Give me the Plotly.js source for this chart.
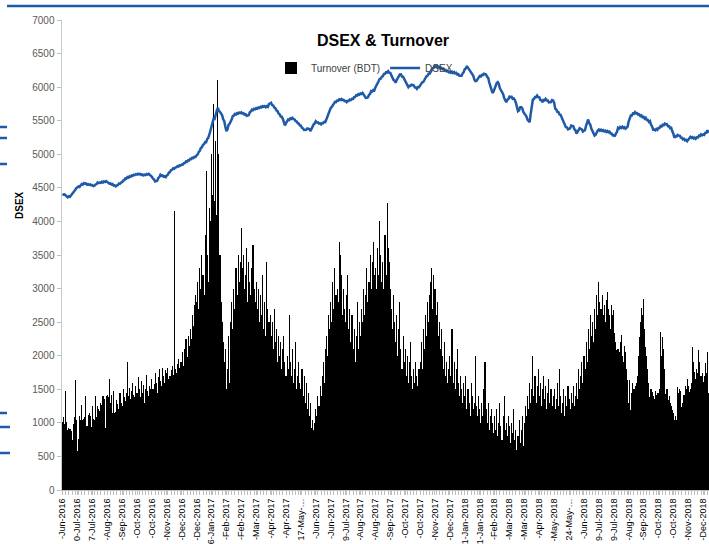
<!DOCTYPE html>
<html>
<head>
<meta charset="utf-8">
<script src="https://cdn.plot.ly/plotly-3.0.1.min.js"></script>
<style>
  html, body { margin: 0; padding: 0; background: #fff; }
  #chart { width: 709px; height: 544px; overflow: hidden; }
</style>
</head>
<body>
<div id="chart"></div>
<script>
// Tick labels as visible in the reference (one every 14 trading days)
const tickLabels = [
  "-Jun-2016","0-Jul-2016","7-Jul-2016","-Aug-2016","-Sep-2016","-Oct-2016","-Oct-2016",
  "-Nov-2016","-Dec-2016","-Dec-2016","6-Jan-2017","-Feb-2017","-Feb-2017","-Mar-2017",
  "-Apr-2017","-Apr-2017","17-May-\u2026","-Jun-2017","-Jun-2017","9-Jul-2017","-Aug-2017",
  "-Aug-2017","-Sep-2017","-Oct-2017","-Oct-2017","-Nov-2017","-Dec-2017","1-Jan-2018",
  "1-Jan-2018","-Feb-2018","-Mar-2018","-Mar-2018","-Apr-2018","-May-2018","24-May-\u2026",
  "-Jun-2018","9-Jul-2018","9-Jul-2018","-Aug-2018","-Sep-2018","-Oct-2018","-Oct-2018",
  "-Nov-2018","-Dec-2018"
];

// Daily turnover (BDT, million)
const turnover = [
  1020,1080,980,1480,1010,900,920,910,880,740,980,1080,1640,1050,
  580,760,1100,1050,1260,1040,1060,1080,1400,950,1120,1150,1100,940,
  1250,1060,1050,1400,1080,1250,1200,1180,1300,1260,1400,1350,930,1400,
  1420,1380,1650,1300,1420,1150,1480,1150,1160,1340,1280,1200,1450,1300,
  1250,1500,1380,1320,1450,1900,1400,1520,1350,1480,1600,1420,1380,1550,
  1450,1680,1500,1380,1620,1450,1560,1300,1500,1720,1480,1400,1550,1500,
  1650,1500,1580,1750,1600,1450,1680,1800,1620,1550,1820,1700,1600,1780,
  1750,1820,1650,1700,1780,1850,1720,4150,1800,1750,1880,1950,1820,1900,
  1900,2050,1850,2100,2250,1980,2300,2150,2400,2250,2600,2450,2750,2900,
  2800,3100,2700,3300,3000,3500,3200,2900,3800,4750,3500,3100,4200,4000,
  5000,4400,5750,4300,5200,4100,6100,5000,3500,2800,2500,2200,1900,2100,
  1500,1800,2300,1600,2500,2800,2400,3000,2700,3300,2900,3500,3100,3400,
  3900,3300,3500,3000,3200,3600,2800,3400,3100,2900,3300,3650,3000,2800,
  3100,2700,3000,2500,2900,2600,3200,2400,2800,2300,3400,2700,2500,2600,
  2300,2500,2100,2700,2200,2400,1900,2300,2000,2200,1800,2100,2300,1900,
  1700,2000,1800,2600,1900,1700,2100,1600,1800,2200,1500,1700,1900,1600,
  1500,1800,1400,1700,1300,1600,1200,1450,1100,1300,920,1050,900,1000,
  1200,1100,1400,1250,1550,1400,1700,1900,1600,2100,2300,2000,2600,2400,
  2800,2500,3100,2700,3300,2900,3000,2800,3700,3500,3200,2600,3000,2700,
  2500,2900,3200,2400,2700,2200,2600,2100,2400,1900,2300,2800,2100,2500,
  2300,2700,2500,3000,2600,2900,3300,2800,3100,3500,3000,3400,3700,3200,
  3300,3000,3600,3200,4000,3500,3100,3400,3000,3800,3200,4270,3600,3400,
  3000,2700,2400,2900,2500,2200,2600,2000,2400,2800,2100,1800,2300,1900,
  2100,1700,2000,1600,1900,2200,1700,1500,1800,1600,1900,1700,1550,1800,
  1900,2200,1800,2400,2100,2600,2300,2800,2500,2900,3100,3300,2700,3200,
  3000,2600,2800,2300,2500,2100,2400,2000,1800,2200,1700,1900,1600,1800,
  2000,1700,2400,1600,1900,1500,1800,2100,1600,1400,1700,1500,1300,1600,
  1400,1700,1200,1500,1300,1100,1600,1400,1200,1300,2000,1250,1100,1400,
  1200,1000,1300,1100,1500,1900,1200,1000,1300,900,1100,1200,1000,850,
  1100,900,1200,800,1000,1300,950,750,1100,1400,900,1000,800,1100,
  950,700,1000,850,1200,750,900,600,800,1050,700,900,1100,650,
  1000,1250,1100,1400,1200,1600,1300,1500,2000,1400,1700,1300,1550,1800,
  1400,1600,1250,1500,1700,1350,1550,1200,1450,1650,1300,1500,1250,1400,
  1500,1200,1350,1600,1250,1800,1400,1150,1300,1500,1100,1400,1250,1550,
  1350,1200,1450,1300,1550,1250,1400,1600,1350,1800,1500,1700,1900,1600,
  2000,1800,2200,1900,2400,2100,2600,2300,2500,2200,2700,2400,2900,2600,
  3100,2800,2700,2900,2600,2750,2500,2830,2950,2700,2600,2400,2750,2600,
  2680,2338,2200,2085,2100,2050,2200,2308,2000,1900,2150,2050,1800,1640,
  1300,1640,1190,1450,1594,1500,1550,1600,1700,2000,2279,2500,2710,2600,
  2850,2400,2130,2000,1800,1600,1385,1500,1460,1400,1350,1480,1420,1450,
  1450,1500,2353,2000,2279,2100,1800,1430,1500,1340,1400,1300,1250,1190,
  1150,1043,1100,1050,1534,1450,1500,1480,1236,1300,1420,1550,1500,1660,
  1550,1460,1500,1600,2130,1900,1760,1650,1809,1750,2085,1900,1700,1750,
  1610,1700,1890,1750,2050,1450
];

// Daily DSEX index close
const dsex = [
  4410,4398,4402,4380,4372,4360,4375,4368,4392,4415,4430,4468,4472,4495,
  4510,4522,4515,4543,4556,4548,4570,4562,4566,4548,4556,4545,4552,4538,
  4542,4526,4532,4550,4556,4581,4572,4580,4576,4592,4580,4596,4588,4600,
  4585,4580,4562,4566,4550,4556,4535,4538,4522,4534,4542,4563,4562,4580,
  4585,4610,4615,4640,4638,4660,4652,4672,4666,4685,4680,4696,4690,4704,
  4698,4710,4702,4708,4692,4700,4686,4696,4690,4705,4698,4708,4696,4688,
  4665,4636,4625,4595,4598,4605,4646,4660,4695,4680,4684,4665,4672,4660,
  4685,4695,4728,4735,4766,4770,4792,4785,4805,4806,4822,4818,4838,4832,
  4848,4845,4868,4870,4892,4888,4910,4908,4932,4928,4948,4944,4962,4960,
  4985,4996,5036,5052,5095,5104,5142,5152,5182,5180,5228,5248,5295,5352,
  5448,5505,5532,5528,5610,5652,5692,5642,5632,5600,5580,5522,5492,5410,
  5345,5372,5438,5455,5508,5522,5568,5578,5602,5592,5612,5604,5622,5614,
  5624,5606,5612,5592,5596,5574,5578,5584,5626,5638,5666,5658,5678,5672,
  5688,5680,5696,5690,5706,5698,5716,5706,5716,5700,5716,5706,5748,5764,
  5768,5732,5726,5694,5686,5652,5646,5608,5596,5562,5560,5528,5486,5430,
  5466,5484,5518,5512,5534,5526,5542,5524,5520,5494,5490,5464,5458,5430,
  5426,5394,5386,5362,5368,5364,5386,5380,5376,5346,5386,5404,5446,5460,
  5492,5474,5476,5456,5460,5446,5466,5464,5484,5480,5526,5564,5626,5654,
  5690,5704,5740,5754,5780,5778,5800,5798,5818,5810,5824,5806,5810,5792,
  5796,5778,5796,5794,5816,5808,5825,5824,5850,5854,5880,5876,5896,5888,
  5906,5898,5914,5890,5876,5838,5840,5848,5886,5898,5940,5935,5956,5950,
  5996,6022,6066,6088,6122,6125,6156,6162,6196,6198,6222,6218,6238,6215,
  6212,6174,6156,6108,6096,6066,6106,6134,6182,6190,6192,6158,6156,6125,
  6100,6052,6036,6000,6020,6018,6036,6026,6026,5998,5996,5976,6002,6000,
  6026,6038,6072,6076,6112,6122,6162,6168,6202,6200,6232,6244,6282,6294,
  6318,6308,6318,6292,6302,6280,6288,6268,6274,6250,6256,6234,6238,6220,
  6232,6214,6228,6210,6224,6204,6212,6188,6192,6168,6172,6168,6206,6224,
  6268,6278,6314,6288,6278,6238,6228,6188,6168,6112,6090,6094,6132,6142,
  6164,6158,6182,6178,6200,6190,6188,6152,6140,6072,6018,5932,5915,5934,
  5990,6012,6062,6075,6048,5982,5958,5926,5898,5838,5808,5776,5812,5822,
  5858,5850,5856,5828,5832,5812,5768,5682,5642,5652,5698,5702,5688,5632,
  5608,5578,5562,5512,5498,5478,5608,5712,5816,5822,5852,5850,5876,5852,
  5848,5808,5804,5776,5808,5804,5826,5802,5802,5772,5778,5778,5808,5802,
  5768,5678,5668,5632,5628,5592,5588,5552,5528,5472,5448,5404,5402,5372,
  5380,5388,5428,5428,5418,5372,5358,5306,5338,5348,5388,5380,5372,5338,
  5345,5362,5428,5468,5518,5462,5438,5380,5348,5292,5280,5292,5338,5355,
  5370,5352,5366,5348,5360,5342,5352,5332,5346,5330,5338,5308,5308,5282,
  5286,5266,5308,5332,5394,5384,5406,5392,5410,5390,5402,5382,5394,5412,
  5488,5532,5578,5578,5608,5604,5628,5608,5612,5588,5592,5568,5578,5552,
  5558,5532,5544,5512,5512,5482,5494,5442,5418,5368,5370,5358,5376,5364,
  5392,5392,5420,5414,5438,5432,5456,5444,5448,5418,5418,5388,5394,5342,
  5308,5246,5270,5264,5288,5280,5278,5248,5246,5222,5230,5208,5216,5196,
  5222,5228,5260,5244,5254,5236,5248,5230,5252,5248,5276,5272,5296,5282,
  5296,5288,5318,5322,5360,5317
];

const LABEL_STEP = 14;
if (turnover.length !== dsex.length) console.error('length mismatch', turnover.length, dsex.length);

// trading-day positions (category index) and tick positions
const dayIndex = turnover.map((_, i) => i);
const tickPositions = tickLabels.map((_, k) => k * LABEL_STEP);

// pixel helpers for decorations outside the plot area
const W = 709, H = 544, ML = 62, MT = 20, MB = 54, MR = 0;
const PW = W - ML - MR, PH = H - MT - MB;
const px = x => (x - ML) / PW;
const py = y => (H - MB - y) / PH;

const blue = '#1f5aa8';
const deco = [
  { x0: 7, x1: 709, y: 6, w: 2.5 },
  { x0: 0, x1: 7, y: 127, w: 2.5 },
  { x0: 0, x1: 7, y: 138, w: 2.5 },
  { x0: 0, x1: 7, y: 164, w: 2.5 },
  { x0: 0, x1: 7, y: 413, w: 2.5 },
  { x0: 0, x1: 10, y: 427, w: 2.5 },
  { x0: 0, x1: 10, y: 453, w: 2.5 }
];
const shapes = deco.map(d => ({
  type: 'line', xref: 'paper', yref: 'paper',
  x0: px(d.x0), x1: px(d.x1), y0: py(d.y), y1: py(d.y),
  line: { color: blue, width: d.w }
}));

const FONT = '"Liberation Sans", Arial, sans-serif';

const traces = [
  {
    type: 'bar', name: 'Turnover (BDT)', x: dayIndex, y: turnover,
    marker: { color: '#000000', line: { width: 0 } },
    hoverinfo: 'skip'
  },
  {
    type: 'scatter', mode: 'lines', name: 'DSEX', x: dayIndex, y: dsex,
    line: { color: blue, width: 2.5 },
    hoverinfo: 'skip'
  }
];

const layout = {
  width: W, height: H,
  margin: { l: ML, r: MR, t: MT, b: MB, pad: 0 },
  paper_bgcolor: '#ffffff', plot_bgcolor: '#ffffff',
  font: { family: FONT, size: 10, color: '#595959' },
  bargap: 0,
  showlegend: true,
  title: {
    text: 'DSEX & Turnover',
    font: { family: FONT, size: 16, color: '#000000', weight: 700 },
    xref: 'paper', x: px(383), xanchor: 'center',
    yref: 'container', y: 1 - 40 / H, yanchor: 'middle'
  },
  legend: {
    orientation: 'h', x: px(271), xanchor: 'left', y: py(68), yanchor: 'middle',
    font: { family: FONT, size: 10, color: '#404040' },
    bgcolor: 'rgba(0,0,0,0)', borderwidth: 0, itemwidth: 30,
    tracegroupgap: 0
  },
  xaxis: {
    type: 'linear',
    range: [-0.5, turnover.length - 0.5],
    tickmode: 'array', tickvals: tickPositions, ticktext: tickLabels,
    tickangle: -90,
    tickfont: { family: FONT, size: 9, color: '#000000' },
    ticks: 'outside', ticklen: 4, tickcolor: '#bfbfbf', tickwidth: 1,
    minor: { ticks: 'outside', tickmode: 'linear', tick0: 0, dtick: 3, ticklen: 4, tickcolor: '#bfbfbf', tickwidth: 1, showgrid: false },
    showline: true, linecolor: '#bfbfbf', linewidth: 1,
    showgrid: false, zeroline: false, automargin: false, fixedrange: true
  },
  yaxis: {
    range: [0, 7000], tickmode: 'linear', tick0: 0, dtick: 500,
    tickfont: { family: FONT, size: 10, color: '#595959' },
    ticks: 'outside', ticklen: 4, tickcolor: '#bfbfbf', tickwidth: 1,
    showline: true, linecolor: '#c8c8c8', linewidth: 1.5,
    showgrid: false, zeroline: false, automargin: false, fixedrange: true
  },
  annotations: [
    {
      text: 'DSEX', xref: 'paper', yref: 'paper', x: px(20), y: py(205),
      xanchor: 'center', yanchor: 'middle', textangle: -90, showarrow: false,
      font: { family: FONT, size: 10, color: '#000000', weight: 700 }
    }
  ],
  shapes: shapes
};

Plotly.newPlot('chart', traces, layout, { displayModeBar: false, staticPlot: true });
</script>
</body>
</html>
